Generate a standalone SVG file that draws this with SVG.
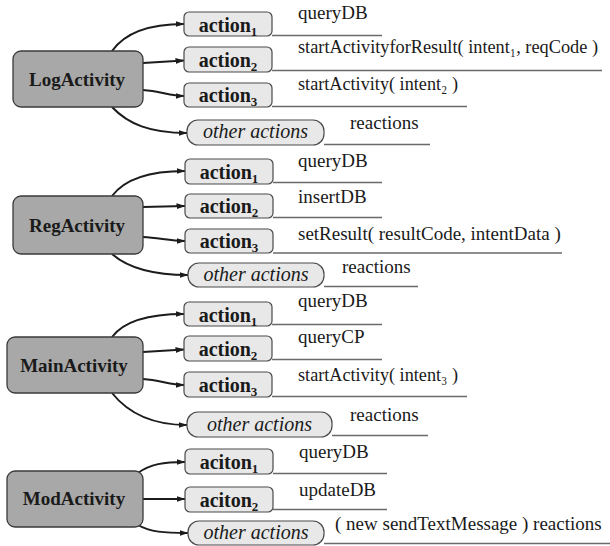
<svg xmlns="http://www.w3.org/2000/svg" width="610" height="546" viewBox="0 0 610 546">
<style>
.bg{fill:#ffffff}
.act{fill:#a8a8a8;stroke:#3a3a3a;stroke-width:1.3}
.btn{fill:#e8e8e8;stroke:#4a4a4a;stroke-width:1.2}
.ul{stroke:#6a6a6a;stroke-width:1.3;fill:none}
.conn{fill:none;stroke:#1c1c1c;stroke-width:2;marker-end:url(#ah)}
text{font-family:'Liberation Serif','Tinos','Times New Roman','DejaVu Serif','Noto Serif',serif;fill:#1a1a1a}
.tact{font-weight:bold;font-size:19px;text-anchor:middle}
.tbtn{font-weight:bold;font-size:20px;text-anchor:middle}
.toth{font-style:italic;font-size:20px;text-anchor:middle}
.tr{font-size:19px}
.sub{font-size:13px}
</style>
<defs>
<marker id="ah" markerWidth="9" markerHeight="6" refX="8.5" refY="3" orient="auto" markerUnits="userSpaceOnUse">
<path d="M0,0 L9,3 L0,6 z" fill="#1c1c1c"/>
</marker>
</defs>
<rect class="bg" x="0" y="0" width="610" height="546"/>

<g id="connectors">
<path class="conn" d="M112,51 C124,34 148,24 184,24"/>
<path class="conn" d="M143,63 L184,60.5"/>
<path class="conn" d="M143,90 C160,91 170,96 184,96"/>
<path class="conn" d="M112,107 C128,124 150,133 187,133"/>

<path class="conn" d="M112,196 C124,180 148,171 185,171"/>
<path class="conn" d="M143,207 L185,206"/>
<path class="conn" d="M143,237 C160,238 170,241 185,241"/>
<path class="conn" d="M112,254 C128,268 152,275 188,275"/>

<path class="conn" d="M112,337 C124,321 148,314 184,314"/>
<path class="conn" d="M143,352 L184,349.5"/>
<path class="conn" d="M143,379 C160,380 170,385 184,385"/>
<path class="conn" d="M112,393 C128,413 152,425 187,425"/>

<path class="conn" d="M138,473 C150,464 164,462 185,462"/>
<path class="conn" d="M143,499 L185,499"/>
<path class="conn" d="M138,525 C150,532 164,533 188,533"/>
</g>

<g id="LogActivity">
<rect class="act" x="13" y="51" width="130" height="56" rx="8"/>
<text class="tact" x="77" y="86">LogActivity</text>
</g>
<g id="log-action1">
<rect class="btn" x="184" y="12" width="88" height="24" rx="5"/>
<text class="tbtn" x="228" y="32">action<tspan class="sub" dy="4">1</tspan></text>
<line class="ul" x1="272" y1="35.5" x2="382" y2="35.5"/>
<text class="tr" x="298" y="19">queryDB</text>
</g>
<g id="log-action2">
<rect class="btn" x="184" y="47" width="88" height="25" rx="5"/>
<text class="tbtn" x="228" y="67">action<tspan class="sub" dy="4">2</tspan></text>
<line class="ul" x1="272" y1="70.5" x2="602" y2="70.5"/>
<text class="tr" x="298" y="53" textLength="300" lengthAdjust="spacingAndGlyphs">startActivityforResult( intent₁, reqCode )</text>
</g>
<g id="log-action3">
<rect class="btn" x="184" y="83" width="88" height="24" rx="5"/>
<text class="tbtn" x="228" y="102">action<tspan class="sub" dy="4">3</tspan></text>
<line class="ul" x1="272" y1="106.5" x2="467" y2="106.5"/>
<text class="tr" x="298" y="90" textLength="160" lengthAdjust="spacingAndGlyphs">startActivity( intent₂ )</text>
</g>
<g id="log-other">
<rect class="btn" x="187" y="120" width="137" height="25" rx="11"/>
<text class="toth" x="255.5" y="138">other actions</text>
<line class="ul" x1="324" y1="144.5" x2="430" y2="144.5"/>
<text class="tr" x="350" y="129">reactions</text>
</g>

<g id="RegActivity">
<rect class="act" x="13" y="196" width="130" height="58" rx="8"/>
<text class="tact" x="77" y="232">RegActivity</text>
</g>
<g id="reg-action1">
<rect class="btn" x="185" y="159" width="88" height="25" rx="5"/>
<text class="tbtn" x="229" y="179">action<tspan class="sub" dy="4">1</tspan></text>
<line class="ul" x1="273" y1="182.5" x2="382" y2="182.5"/>
<text class="tr" x="298" y="167">queryDB</text>
</g>
<g id="reg-action2">
<rect class="btn" x="185" y="194" width="88" height="24" rx="5"/>
<text class="tbtn" x="229" y="213">action<tspan class="sub" dy="4">2</tspan></text>
<line class="ul" x1="273" y1="217.5" x2="382" y2="217.5"/>
<text class="tr" x="298" y="203">insertDB</text>
</g>
<g id="reg-action3">
<rect class="btn" x="185" y="229" width="88" height="24" rx="5"/>
<text class="tbtn" x="229" y="248">action<tspan class="sub" dy="4">3</tspan></text>
<line class="ul" x1="273" y1="253" x2="562" y2="253"/>
<text class="tr" x="298" y="240">setResult( resultCode, intentData )</text>
</g>
<g id="reg-other">
<rect class="btn" x="188" y="263" width="136" height="24" rx="11"/>
<text class="toth" x="256" y="281">other actions</text>
<line class="ul" x1="324" y1="286.5" x2="418" y2="286.5"/>
<text class="tr" x="342" y="273">reactions</text>
</g>

<g id="MainActivity">
<rect class="act" x="7" y="337" width="136" height="56" rx="8"/>
<text class="tact" x="74" y="372">MainActivity</text>
</g>
<g id="main-action1">
<rect class="btn" x="184" y="302" width="88" height="24" rx="5"/>
<text class="tbtn" x="228" y="322">action<tspan class="sub" dy="4">1</tspan></text>
<line class="ul" x1="272" y1="324.5" x2="382" y2="324.5"/>
<text class="tr" x="298" y="307">queryDB</text>
</g>
<g id="main-action2">
<rect class="btn" x="184" y="336" width="88" height="25" rx="5"/>
<text class="tbtn" x="228" y="356">action<tspan class="sub" dy="4">2</tspan></text>
<line class="ul" x1="272" y1="359.5" x2="382" y2="359.5"/>
<text class="tr" x="298" y="343">queryCP</text>
</g>
<g id="main-action3">
<rect class="btn" x="184" y="372" width="88" height="25" rx="5"/>
<text class="tbtn" x="228" y="392">action<tspan class="sub" dy="4">3</tspan></text>
<line class="ul" x1="272" y1="396.5" x2="467" y2="396.5"/>
<text class="tr" x="298" y="381" textLength="160" lengthAdjust="spacingAndGlyphs">startActivity( intent₃ )</text>
</g>
<g id="main-other">
<rect class="btn" x="187" y="412" width="145" height="25" rx="11"/>
<text class="toth" x="259.5" y="431">other actions</text>
<line class="ul" x1="332" y1="435.5" x2="428" y2="435.5"/>
<text class="tr" x="350" y="421">reactions</text>
</g>

<g id="ModActivity">
<rect class="act" x="7" y="471" width="136" height="56" rx="8"/>
<text class="tact" x="74" y="505">ModActivity</text>
</g>
<g id="mod-action1">
<rect class="btn" x="185" y="449" width="88" height="25" rx="5"/>
<text class="tbtn" x="229" y="469">aciton<tspan class="sub" dy="4">1</tspan></text>
<line class="ul" x1="273" y1="473.5" x2="387" y2="473.5"/>
<text class="tr" x="299" y="458">queryDB</text>
</g>
<g id="mod-action2">
<rect class="btn" x="185" y="487" width="88" height="25" rx="5"/>
<text class="tbtn" x="229" y="507">aciton<tspan class="sub" dy="4">2</tspan></text>
<line class="ul" x1="273" y1="509.5" x2="387" y2="509.5"/>
<text class="tr" x="299" y="496">updateDB</text>
</g>
<g id="mod-other">
<rect class="btn" x="188" y="521" width="136" height="24" rx="11"/>
<text class="toth" x="256" y="539">other actions</text>
<line class="ul" x1="324" y1="543.5" x2="610" y2="543.5"/>
<text class="tr" x="335" y="530">( new sendTextMessage ) reactions</text>
</g>
</svg>
